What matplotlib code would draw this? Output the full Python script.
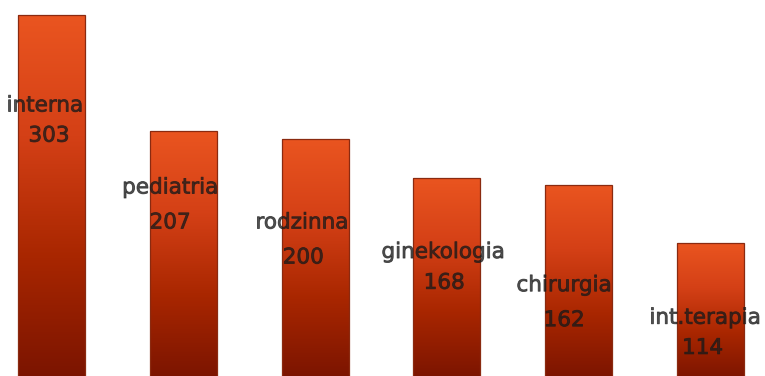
import numpy as np
import matplotlib
matplotlib.use("Agg")
import matplotlib.pyplot as plt
import matplotlib.patheffects as pe
from matplotlib.colors import LinearSegmentedColormap

categories = ["interna", "pediatria", "rodzinna", "ginekologia", "chirurgia", "int.terapia"]
values = [303, 207, 200, 168, 162, 114]
value_labels = ["303", "207", "200", "168", "162", "114"]

# label layout (data units for y, bar-units offsets for x)
name_y = [228, 160, 131, 106.5, 79, 52]
value_y = [203, 131, 102, 81, 50, 27]
name_dx = [-0.05, -0.10, -0.10, -0.03, -0.11, -0.04]
value_dx = [-0.02, -0.10, -0.09, -0.02, -0.11, -0.06]

fig = plt.figure(figsize=(7.65, 3.76), dpi=100)
ax = fig.add_axes([0, 0, 1, 1])
ax.set_xlim(-0.391, 5.414)
ax.set_ylim(3.73, 315.5)
ax.axis("off")

cmap = LinearSegmentedColormap.from_list("g", ["#7a1400", "#a82600", "#d44016", "#ea5520"])
grad = np.linspace(0, 1, 256).reshape(-1, 1)

x = np.arange(len(values))
bars = ax.bar(x, values, width=0.508, color="none", edgecolor="#8a2a10", linewidth=0.9, zorder=3)
for b in bars:
    x0, y0 = b.get_x(), b.get_y()
    w, h = b.get_width(), b.get_height()
    im = ax.imshow(grad, cmap=cmap, aspect="auto", origin="lower",
                   extent=[x0, x0 + w, y0, y0 + h], zorder=2, interpolation="bilinear")
    im.set_clip_path(b)

effects = [pe.Stroke(linewidth=0.6, foreground="#1a1a1a", alpha=0.75)]
for i in range(len(values)):
    ax.text(x[i] + name_dx[i], name_y[i], categories[i], ha="center", va="center",
            fontsize=15.5, color="#1a1a1a", alpha=0.8, zorder=4, family="DejaVu Sans",
            path_effects=effects)
    ax.text(x[i] + value_dx[i], value_y[i], value_labels[i], ha="center", va="center",
            fontsize=15.5, color="#1a1a1a", alpha=0.8, zorder=4, family="DejaVu Sans",
            path_effects=effects)

fig.savefig("out.png", dpi=100)
